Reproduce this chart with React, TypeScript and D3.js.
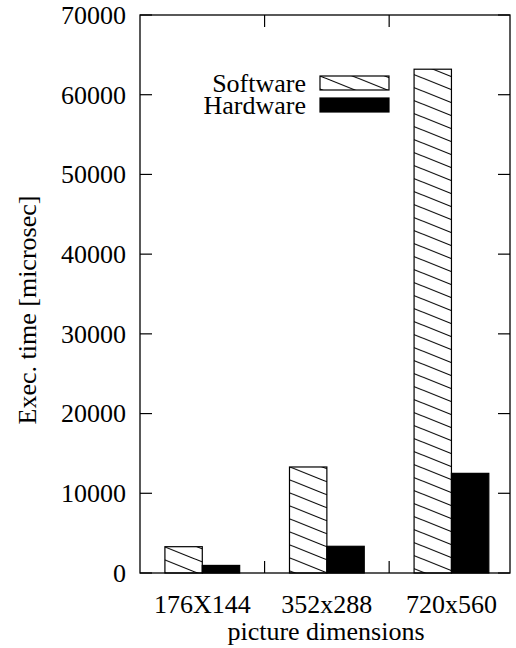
import React, { useEffect, useRef } from "react";
import * as d3 from "d3";

const categories = ["176X144", "352x288", "720x560"];
const software = [3300, 13300, 63200];
const hardware = [950, 3350, 12500];
const yTicks = [0, 10000, 20000, 30000, 40000, 50000, 60000, 70000];
const sepTicks = [0.5, 1.5];

export default function App() {
  const ref = useRef<SVGSVGElement>(null);

  useEffect(() => {
    const svg = d3.select(ref.current);
    svg.selectAll("*").remove();
    const left = 140, right = 510, top = 15, bottom = 573;
    const font = "Liberation Serif, Times New Roman, Times, DejaVu Serif, serif";
    const fs = 26;
    const tick = 12;

    const x = d3.scaleLinear().domain([-0.5, 2.47]).range([left, right]);
    const y = d3.scaleLinear().domain([0, 70000]).range([bottom, top]);
    const bw = x(0.3) - x(0);

    // hatch pattern
    const W = 32.5, H = 13;
    const pat = svg.append("defs").append("pattern")
      .attr("id", "hatch")
      .attr("patternUnits", "userSpaceOnUse")
      .attr("width", W).attr("height", H);
    pat.append("rect").attr("width", W).attr("height", H).attr("fill", "#fff");
    pat.append("path")
      .attr("d", `M${-W},${-H}L${2 * W},${2 * H}M0,${-H}L${2 * W},${H}M${-W},0L${W},${2 * H}`)
      .attr("stroke", "#000").attr("stroke-width", 1.1).attr("fill", "none");

    const label = (sel: any) =>
      sel.attr("font-family", font).attr("font-size", fs).attr("fill", "#000");

    // bars
    const g = svg.append("g");
    categories.forEach((c, i) => {
      g.append("rect")
        .attr("x", x(i) - bw).attr("y", y(software[i]))
        .attr("width", bw).attr("height", y(0) - y(software[i]))
        .attr("fill", "url(#hatch)").attr("stroke", "#000").attr("stroke-width", 1.2);
      g.append("rect")
        .attr("x", x(i)).attr("y", y(hardware[i]))
        .attr("width", bw).attr("height", y(0) - y(hardware[i]))
        .attr("fill", "#000").attr("stroke", "#000").attr("stroke-width", 1.2);
    });

    // y ticks, mirrored
    yTicks.forEach((t) => {
      svg.append("line").attr("x1", left).attr("x2", left + tick)
        .attr("y1", y(t)).attr("y2", y(t)).attr("stroke", "#000").attr("stroke-width", 1.2);
      svg.append("line").attr("x1", right).attr("x2", right - tick)
        .attr("y1", y(t)).attr("y2", y(t)).attr("stroke", "#000").attr("stroke-width", 1.2);
      svg.append("text").attr("x", 126).attr("y", y(t)).attr("dy", "0.34em")
        .attr("text-anchor", "end").call(label)
        .text(t);
    });

    // x separator ticks, mirrored
    sepTicks.forEach((t) => {
      svg.append("line").attr("x1", x(t)).attr("x2", x(t))
        .attr("y1", bottom).attr("y2", bottom - tick).attr("stroke", "#000").attr("stroke-width", 1.2);
      svg.append("line").attr("x1", x(t)).attr("x2", x(t))
        .attr("y1", top).attr("y2", top + tick).attr("stroke", "#000").attr("stroke-width", 1.2);
    });

    categories.forEach((c, i) => {
      svg.append("text").attr("x", x(i)).attr("y", 613)
        .attr("text-anchor", "middle").call(label)
        .text(c);
    });

    // frame
    svg.append("rect").attr("x", left).attr("y", top)
      .attr("width", right - left).attr("height", bottom - top)
      .attr("fill", "none").attr("stroke", "#000").attr("stroke-width", 1.3);

    // axis labels
    svg.append("text").attr("x", 326).attr("y", 640)
      .attr("text-anchor", "middle").call(label)
      .text("picture dimensions");
    svg.append("text")
      .attr("transform", `translate(36,310)rotate(-90)`)
      .attr("text-anchor", "middle").call(label)
      .text("Exec. time [microsec]");

    // legend
    const legend = [
      { name: "Software", fill: "url(#hatch)", y: 76 },
      { name: "Hardware", fill: "#000", y: 98 },
    ];
    legend.forEach((l) => {
      svg.append("rect").attr("x", 320).attr("y", l.y).attr("width", 69).attr("height", 14)
        .attr("fill", l.fill).attr("stroke", "#000").attr("stroke-width", 1.2);
      svg.append("text").attr("x", 306).attr("y", l.y + 7).attr("dy", "0.34em")
        .attr("text-anchor", "end").call(label)
        .text(l.name);
    });
  }, []);

  return (
    <svg ref={ref} width={516} height={648}
      style={{ position: "absolute", left: 0, top: 0, background: "#fff" }} />
  );
}
